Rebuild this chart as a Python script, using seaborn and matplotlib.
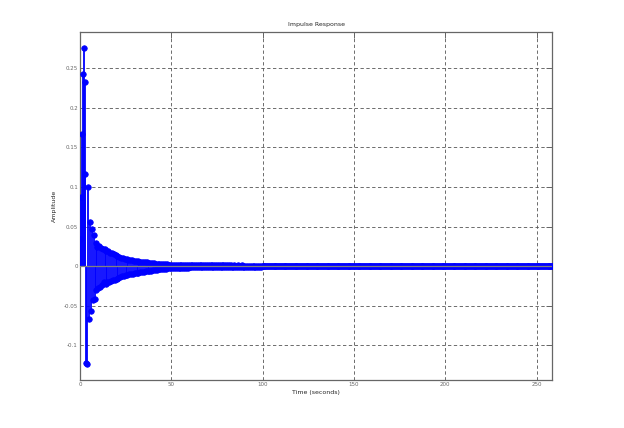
import numpy as np
import pandas as pd
import seaborn as sns
import matplotlib.pyplot as plt

# impulse response samples, amplitude in units of 1e-4, sample time 0.5 s
sample_time = 0.5
amp_head = [340, 880, 1670, 2430, 2760, 2330, 1160, -1220, -1240, 1000,
            -670, 560, -570, 470, -430, 390, -410, 290, -300, 240,
            -280, 250, -260, 230, -240, 220, -200, 220, -220, 190,
            -200, 185, -195, 170, -188, 160, -175, 150, -170, 140,
            -160, 130, -150, 115, -140, 105, -130, 98, -125, 90,
            -118, 85, -110, 80, -105, 75, -100, 72, -95, 68,
            -90, 65, -85, 60, -82, 58, -78, 56, -75, 52,
            -72, 50, -68, 46, -65, 44, -60, 40, -56, 36,
            -52, 33, -48, 30, -45, 28, -42, 26, -40, 25,
            -38, 24, -35, 22, -33, 21, -30, 20, -28, 19,
            -26, 18, -25, 18, -24, 17, -23, 17, -22, 16,
            -21, 16, -20, 15, -19, 15, -18, 14, -18, 14]
amp_mid = [-17, 14, -17, 13, -16, 13, -16, 13, -15, 12, -15, 12, -14, 12, -14, 12, -13, 11, -13, 11,
           -12, 11, -12, 10, -12, 10, -11, 10, -11, 9, -11, 9, -10, 9, -10, 9, -10, 8, -9, 8,
           -9, 14, -15, 8, -9, 13, -14, 7, -8, 12, -13, 7, -8, 11, -12, 6, -7, 10, -11, 6,
           -7, 6, -6, 5, -6, 5, -6, 5, -5, 5, -5, 5, -5, 4, -5, 4, -5, 4, -5, 4,
           -4, 4, -4, 4, -4, 4, -4, 4, -4, 3, -4, 3, -4, 3, -4, 3, -3, 3, -3, 3,
           -3, 3, -3, 3, -3, 3, -3, 3, -3, 3, -3, 3, -3, 2, -3, 2, -3, 2, -3, 2,
           -3, 2, -2, 2, -2, 2, -2, 2, -2, 2, -2, 2, -2, 2, -2, 2, -2, 2, -2, 2]
amp_tail = [-2, 2, -2, 2, -2, 1, -2, 2, -1, 2, -2, 1, -2, 2, -1, 1, -2, 2, -1, 1,
            -1, 2, -2, 1, -1, 2, -1, 1, -2, 1, -1, 2, -1, 1, -1, 2, -1, 1, -1, 1,
            -2, 1, -1, 1, -1, 2, -1, 1, -1, 1, -1, 1, -2, 1, -1, 1, -1, 1, -1, 2,
            -1, 1, -1, 1, -1, 1, -1, 1, -1, 1, -2, 1, -1, 1, -1, 1, -1, 1, -1, 1,
            -1, 1, -1, 1, -1, 1, -1, 1, -1, 1, -1, 1, -1, 1, -1, 1, -1, 1, -1, 1,
            -1, 1, -1, 1, -1, 1, -1, 1, -1, 1, -1, 1, -1, 1, -1, 1, -1, 1, -1, 1,
            -1, 1, -1, 1, -1, 1, -1, 1, -1, 1, -1, 1, -1, 1, -1, 1, -1, 1, -1, 1,
            -1, 1, -1, 1, -1, 1, -1, 1, -1, 1, -1, 1, -1, 1, -1, 1, -1, 1, -1, 1,
            -1, 1, -1, 1, -1, 1, -1, 1, -1, 1, -1, 1, -1, 1, -1, 1, -1, 1, -1, 1,
            -1, 1, -1, 1, -1, 1, -1, 1, -1, 1, -1, 1, -1, 1, -1, 1, -1, 1, -1, 1,
            -1, 1, -1, 1, -1, 1, -1, 1, -1, 1, -1, 1, -1, 1, -1, 1, -1, 1, -1, 1,
            -1, 1, -1, 1, -1, 1, -1, 1, -1, 1, -1, 1, -1, 1, -1, 1, -1, 1, -1, 1,
            -1, 1, -1, 1, -1, 1, -1, 1, -1, 1, -1, 1, -1, 1, -1, 1, -1, 1, -1, 1]

x_ticks = [0, 50, 100, 150, 200, 250]
x_ticklabels = ["0", "50", "100", "150", "200", "250"]
y_ticks = [-0.1, -0.05, 0, 0.05, 0.1, 0.15, 0.2, 0.25]
y_ticklabels = ["-0.1", "-0.05", "0", "0.05", "0.1", "0.15", "0.2", "0.25"]

amp = np.array(amp_head + amp_mid + amp_tail) / 1e4
df = pd.DataFrame({"time": np.arange(len(amp)) * sample_time, "amplitude": amp})

sns.set_style("white")
plt.rcParams["font.family"] = ["DejaVu Sans"]

fig = plt.figure(figsize=(6.24, 4.28), dpi=100)
ax = fig.add_axes([80 / 624, 48 / 428, 472 / 624, 348 / 428])

# stems + markers
ax.vlines(df["time"], 0, df["amplitude"], color="#0000ff", lw=1.3, zorder=3)
sns.scatterplot(data=df, x="time", y="amplitude", ax=ax, color="#0000ff",
                edgecolor="#0000ff", s=16, linewidth=0.5, zorder=4)
ax.axhline(0, color="#808080", lw=0.9, zorder=5)

ax.set_xlim(0, 258.4)
ax.set_ylim(-0.144, 0.296)
ax.set_xticks(x_ticks, x_ticklabels)
ax.set_yticks(y_ticks, y_ticklabels)

ax.grid(True, color="#555555", linestyle=(0, (4, 3)), linewidth=0.6)
for s in ax.spines.values():
    s.set_color("#666666")
    s.set_linewidth(0.9)
ax.tick_params(direction="in", top=True, right=True, length=4, width=0.7,
               color="#666666", labelsize=4, labelcolor="#666666", pad=1.5)

ax.set_title("Impulse Response", fontsize=4.5, pad=4)
ax.set_xlabel("Time (seconds)", fontsize=4.5, labelpad=2)
ax.set_ylabel("Amplitude", fontsize=4.5, labelpad=5)

fig.savefig("out.png", dpi=100)
